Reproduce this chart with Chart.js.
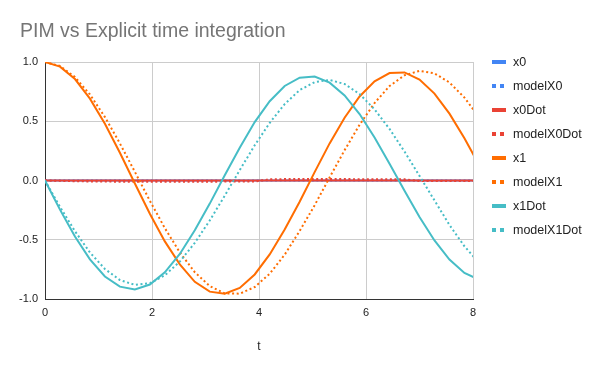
<!DOCTYPE html>
<html>
<head>
<meta charset="utf-8">
<script src="https://cdn.jsdelivr.net/npm/chart.js@4.4.1/dist/chart.umd.min.js"></script>
<style>
    html, body { margin: 0; padding: 0; background: #fff; }
    #contenedor { width: 600px; height: 371px; }
</style>
</head>
<body>
<div id="contenedor"><canvas id="graficaPIM"></canvas></div>
<script>
// Datos (paso de tiempo 0.28)
const tiempos = [0, 0.28, 0.56, 0.84, 1.12, 1.4, 1.68, 1.96, 2.24, 2.52, 2.8, 3.08, 3.36, 3.64, 3.92,
    4.2, 4.48, 4.76, 5.04, 5.32, 5.6, 5.88, 6.16, 6.44, 6.72, 7.0, 7.28, 7.56, 7.84, 8.12];

const x0 = [0, 0, 0, 0, 0, 0, 0, 0, 0, 0, 0, 0, 0, 0, 0, 0, 0, 0, 0, 0, 0, 0, 0, 0, 0, 0, 0, 0, 0, 0];
const modelX0 = [0, 0, 0, 0, 0, 0, 0, 0, 0, 0, 0, 0, 0, 0, 0, 0, 0, 0, 0, 0, 0, 0, 0, 0, 0, 0, 0, 0, 0, 0];
const x0Dot = [0, 0, 0, 0, 0, 0, 0, 0, 0, 0, 0, 0, 0, 0, 0, 0, 0, 0, 0, 0, 0, 0, 0, 0, 0, 0, 0, 0, 0, 0];
const modelX0Dot = [0, -0.003, -0.006, -0.008, -0.009, -0.01, -0.01, -0.01, -0.011, -0.011, -0.01, -0.01, -0.009, -0.009, -0.008,
    0.01, 0.012, 0.012, 0.012, 0.012, 0.012, 0.011, 0.011, 0.011, 0.01, -0.004, -0.005, -0.005, -0.005, -0.005];

const x1 = [1.0, 0.961, 0.856, 0.691, 0.479, 0.234, -0.025, -0.280, -0.514, -0.708, -0.855, -0.938, -0.956, -0.907, -0.793,
    -0.624, -0.413, -0.179, 0.071, 0.313, 0.530, 0.709, 0.837, 0.907, 0.912, 0.852, 0.733, 0.564, 0.356, 0.125];
const modelX1 = [1.0, 0.966, 0.873, 0.726, 0.535, 0.313, 0.073, -0.171, -0.402, -0.607, -0.774, -0.891, -0.953, -0.955, -0.899,
    -0.787, -0.626, -0.426, -0.209, 0.026, 0.256, 0.470, 0.654, 0.797, 0.888, 0.925, 0.904, 0.827, 0.700, 0.530];
const x1Dot = [0, -0.246, -0.473, -0.666, -0.810, -0.896, -0.919, -0.878, -0.775, -0.620, -0.420, -0.195, 0.045, 0.277, 0.493,
    0.669, 0.798, 0.868, 0.878, 0.826, 0.718, 0.561, 0.363, 0.142, -0.087, -0.308, -0.506, -0.667, -0.780, -0.838];
const modelX1Dot = [0, -0.222, -0.428, -0.607, -0.747, -0.840, -0.881, -0.867, -0.800, -0.684, -0.526, -0.337, -0.128, 0.088, 0.297,
    0.486, 0.645, 0.763, 0.830, 0.849, 0.814, 0.730, 0.600, 0.435, 0.244, 0.039, -0.168, -0.375, -0.555, -0.700];

const etiquetasX = [0, 2, 4, 6, 8];
const etiquetasY = [-1.0, -0.5, 0.0, 0.5, 1.0];

const series = [
    { nombre: "x0", valores: x0, color: "#4285f4", punteada: false },
    { nombre: "modelX0", valores: modelX0, color: "#4285f4", punteada: true },
    { nombre: "x0Dot", valores: x0Dot, color: "#ea4335", punteada: false },
    { nombre: "modelX0Dot", valores: modelX0Dot, color: "#ea4335", punteada: true },
    { nombre: "x1", valores: x1, color: "#ff6d01", punteada: false },
    { nombre: "modelX1", valores: modelX1, color: "#ff6d01", punteada: true },
    { nombre: "x1Dot", valores: x1Dot, color: "#46bdc6", punteada: false },
    { nombre: "modelX1Dot", valores: modelX1Dot, color: "#46bdc6", punteada: true }
];

const fuente = "'Liberation Sans', Arial, sans-serif";

// titulo y leyenda dibujados a mano, como en la hoja de calculo
const pluginTituloLeyenda = {
    id: "tituloLeyenda",
    afterDraw: function (chart) {
        let ctx = chart.ctx;
        ctx.save();
        ctx.fillStyle = "#757575";
        ctx.font = "19.5px " + fuente;
        ctx.textBaseline = "alphabetic";
        ctx.textAlign = "left";
        ctx.fillText("PIM vs Explicit time integration", 20, 37);

        chart.data.datasets.forEach((ds, i) => {
            let y = 62 + 24 * i;
            ctx.fillStyle = ds.borderColor;
            if (ds.borderDash.length) {
                ctx.fillRect(492, y - 2, 4, 4);
                ctx.fillRect(500, y - 2, 4, 4);
            } else {
                ctx.fillRect(492, y - 2, 14, 4);
            }
            ctx.fillStyle = "#222";
            ctx.font = "12.5px " + fuente;
            ctx.textBaseline = "middle";
            ctx.fillText(ds.label, 513, y + 1);
        });
        ctx.restore();
    }
};

let ctx = document.getElementById("graficaPIM").getContext("2d");

let chart = new Chart(ctx, {
    type: "line",
    data: {
        datasets: series.map((s, i) => ({
            label: s.nombre,
            data: tiempos.map((t, k) => ({ x: t, y: s.valores[k] })),
            borderColor: s.color,
            backgroundColor: s.color,
            borderWidth: 2,
            borderDash: s.punteada ? [2, 2.6] : [],
            pointRadius: 0,
            tension: 0,
            fill: false,
            order: series.length - i // las ultimas series encima
        }))
    },
    options: {
        responsive: true,
        maintainAspectRatio: false,
        animation: false,
        layout: {
            padding: { top: 62, right: 127, left: 0, bottom: 13 }
        },
        plugins: {
            legend: { display: false },
            title: { display: false },
            tooltip: { enabled: false }
        },
        scales: {
            x: {
                type: "linear",
                min: 0,
                max: 8,
                afterBuildTicks: function (scale) {
                    scale.ticks = etiquetasX.map(v => ({ value: v }));
                },
                afterFit: function (scale) { scale.height = 59; },
                grid: { color: "#cccccc", drawTicks: false },
                border: { color: "#333333", width: 1 },
                ticks: {
                    color: "#222",
                    padding: 7,
                    maxRotation: 0,
                    font: { family: fuente, size: 11 }
                },
                title: {
                    display: true,
                    text: "t",
                    color: "#222",
                    font: { family: fuente, size: 12 }
                }
            },
            y: {
                min: -1,
                max: 1,
                afterBuildTicks: function (scale) {
                    scale.ticks = etiquetasY.map(v => ({ value: v }));
                },
                afterFit: function (scale) { scale.width = 45; },
                grid: { color: "#cccccc", drawTicks: false },
                border: { color: "#333333", width: 1 },
                ticks: {
                    color: "#222",
                    padding: 7,
                    font: { family: fuente, size: 11 },
                    callback: function (v) { return v.toFixed(1); }
                }
            }
        }
    },
    plugins: [pluginTituloLeyenda]
});
</script>
</body>
</html>
